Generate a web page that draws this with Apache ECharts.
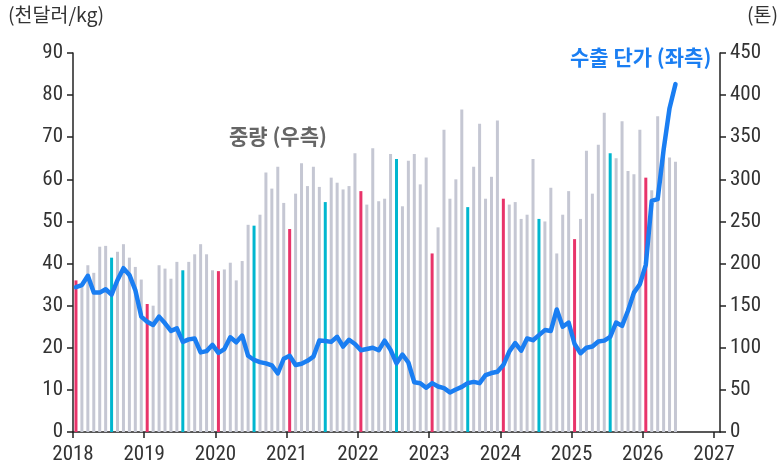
<!DOCTYPE html>
<html>
<head>
<meta charset="utf-8">
<script src="https://cdn.jsdelivr.net/npm/echarts@6/dist/echarts.min.js"></script>
<style>
  html, body { margin: 0; padding: 0; background: #fff; }
  #chart { width: 780px; height: 469px; }
</style>
</head>
<body>
<div id="chart"></div>
<script>
// monthly data, Jan 2018 .. Jun 2026
var startYear = 2018;
var yearTicks = [2018, 2019, 2020, 2021, 2022, 2023, 2024, 2025, 2026, 2027];

// 중량 (톤, 우측)
var weight = [
  180, 172, 198, 189, 220, 221, 207, 214, 223, 207, 196, 181,
  152, 150, 198, 194, 182, 202, 192, 202, 211, 223, 211, 192,
  191, 193, 201, 180, 203, 246, 245, 258, 308, 289, 315, 272,
  241, 283, 319, 292, 315, 291, 273, 302, 296, 288, 292, 331,
  286, 270, 337, 274, 277, 330, 324, 268, 322, 330, 294, 326,
  212, 243, 359, 277, 300, 383, 267, 315, 366, 277, 303, 370,
  277, 270, 273, 253, 258, 324, 253, 250, 290, 212, 258, 286,
  229, 253, 334, 283, 341, 379, 331, 325, 369, 310, 306, 359,
  302, 287, 375, 335, 326, 321
];

// 수출 단가 (천달러/kg, 좌측)
var price = [
  34.4, 34.9, 37.1, 33.1, 33.1, 33.9, 32.6, 36.1, 38.9, 37.3, 33.7, 27.4,
  26.2, 25.4, 27.4, 25.8, 24.0, 24.6, 21.4, 22.0, 22.2, 18.9, 19.2, 20.7,
  18.8, 19.7, 22.5, 21.3, 22.9, 18.1, 17.1, 16.6, 16.3, 15.8, 13.9, 17.4,
  18.1, 15.9, 16.2, 16.9, 17.9, 21.7, 21.6, 21.4, 22.6, 20.3, 21.9, 20.9,
  19.4, 19.7, 20.0, 19.4, 21.7, 19.5, 16.3, 18.4, 16.5, 11.8, 11.6, 10.5,
  11.6, 10.8, 10.4, 9.4, 10.1, 10.7, 11.6, 11.9, 11.6, 13.5, 14.0, 14.3,
  15.9, 19.1, 21.1, 19.3, 22.2, 21.8, 23.0, 24.2, 24.0, 29.1, 25.0, 26.0,
  20.9, 18.7, 20.0, 20.3, 21.5, 21.7, 22.6, 26.0, 25.2, 28.8, 33.1, 35.1,
  39.7, 54.9, 55.3, 67.0, 76.9, 82.6
];

var GRAY = '#c5c7d3', RED = '#e8346a', CYAN = '#00b6cf', BLUE = '#1a7ef2';
var labelFont = '"Liberation Sans Narrow", "Roboto Condensed", "DejaVu Sans Condensed", sans-serif';
var krFont = '"Noto Sans CJK KR", sans-serif';

function monthX(i) {
  return startYear + (i + 0.5) / 12;
}

var barData = weight.map(function (v, i) {
  var m = i % 12;
  var c = m === 0 ? RED : (m === 6 ? CYAN : GRAY);
  return { value: [monthX(i), v], itemStyle: { color: c } };
});
var lineData = price.map(function (v, i) {
  return [monthX(i), v];
});

var axisCommon = {
  splitLine: { show: false },
  axisLine: { show: true, lineStyle: { color: '#222', width: 1.5 } },
  axisTick: { show: true, length: 6, lineStyle: { color: '#222', width: 1.5 } }
};

var chart = echarts.init(document.getElementById('chart'));
chart.setOption({
  animation: false,
  grid: { left: 73, right: 60, top: 53, bottom: 37 },
  xAxis: Object.assign({
    type: 'value',
    min: yearTicks[0],
    max: yearTicks[yearTicks.length - 1] + 1 / 12,
    interval: 1,
    axisLabel: {
      showMaxLabel: false,
      margin: 12,
      color: '#333',
      fontSize: 21,
      fontFamily: labelFont,
      formatter: function (v) { return Number.isInteger(v) ? String(v) : ''; }
    }
  }, axisCommon),
  yAxis: [
    Object.assign({
      type: 'value', min: 0, max: 90, interval: 10,
      axisLabel: { color: '#333', fontSize: 21, margin: 10, fontFamily: labelFont }
    }, axisCommon),
    Object.assign({
      type: 'value', min: 0, max: 450, interval: 50,
      position: 'right',
      axisLabel: { color: '#333', fontSize: 21, margin: 10, fontFamily: labelFont }
    }, axisCommon)
  ],
  series: [
    {
      name: '중량 (우측)',
      type: 'bar',
      yAxisIndex: 1,
      barWidth: 3,
      data: barData,
      z: 2
    },
    {
      name: '수출 단가 (좌측)',
      type: 'line',
      yAxisIndex: 0,
      data: lineData,
      symbol: 'none',
      lineStyle: { color: BLUE, width: 4.5, join: 'round', cap: 'round' },
      z: 3
    }
  ],
  graphic: [
    { type: 'text', left: 8, top: 5,
      style: { text: '(천달러/kg)', fill: '#333', font: '19.5px ' + krFont } },
    { type: 'text', right: 2, top: 5,
      style: { text: '(톤)', fill: '#333', font: '19.5px ' + krFont } },
    { type: 'text', left: 229, top: 126,
      style: { text: '중량 (우측)', fill: '#666', font: 'bold 21px ' + krFont } },
    { type: 'text', left: 570, top: 47,
      style: { text: '수출 단가 (좌측)', fill: BLUE, font: 'bold 21px ' + krFont } }
  ]
});
</script>
</body>
</html>
